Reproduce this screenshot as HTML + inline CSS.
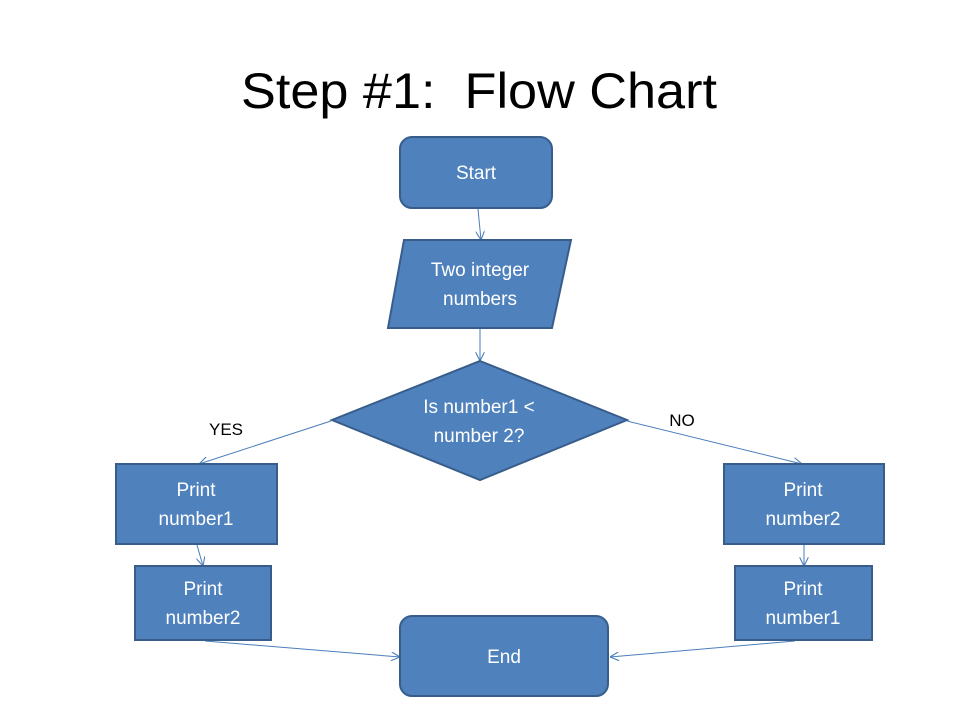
<!DOCTYPE html>
<html><head><meta charset="utf-8"><style>
html,body{margin:0;padding:0;background:#fff;}
svg{display:block;}
text{font-family:"Liberation Sans",sans-serif;}
.w{fill:#fff;font-size:19px;text-anchor:middle;}
.s{fill:#4f81bd;stroke:#385d8a;stroke-width:2;}
.c{stroke:#4a7ebb;stroke-width:1;fill:none;}
</style></head><body>
<svg width="960" height="720" viewBox="0 0 960 720" xmlns="http://www.w3.org/2000/svg">
<defs><marker id="a" viewBox="0 0 10 10" refX="10" refY="5" markerWidth="9" markerHeight="9" orient="auto" markerUnits="userSpaceOnUse"><path d="M0,0 L10,5 L0,10" fill="none" stroke="#4a7ebb" stroke-width="1.2"/></marker></defs>
<text x="479" y="108" font-size="50" text-anchor="middle" textLength="476" lengthAdjust="spacingAndGlyphs" fill="#000">Step #1:&#160; Flow Chart</text>

<line class="c" x1="478" y1="209" x2="481" y2="240" marker-end="url(#a)"/>
<line class="c" x1="480" y1="329" x2="480" y2="361" marker-end="url(#a)"/>
<line class="c" x1="331" y1="421" x2="199" y2="464" marker-end="url(#a)"/>
<line class="c" x1="627" y1="421" x2="802" y2="464" marker-end="url(#a)"/>
<line class="c" x1="197" y1="545" x2="203" y2="566" marker-end="url(#a)"/>
<line class="c" x1="804" y1="545" x2="804" y2="566" marker-end="url(#a)"/>
<line class="c" x1="205" y1="641" x2="400" y2="657" marker-end="url(#a)"/>
<line class="c" x1="795" y1="641" x2="610" y2="657" marker-end="url(#a)"/>

<rect class="s" x="400" y="137" width="152" height="71" rx="12"/>
<text class="w" x="476" y="179">Start</text>

<polygon class="s" points="404,240 571,240 552,328 388,328"/>
<text class="w" x="480" y="276">Two integer</text>
<text class="w" x="480" y="305">numbers</text>

<polygon class="s" points="480,361 627,420 480,480 332,420"/>
<text class="w" x="479" y="413">Is number1 &lt;</text>
<text class="w" x="479" y="442">number 2?</text>

<text x="226" y="435" font-size="17" text-anchor="middle" fill="#000">YES</text>
<text x="682" y="426" font-size="17" text-anchor="middle" fill="#000">NO</text>

<rect class="s" x="116" y="464" width="161" height="80"/>
<text class="w" x="196" y="496">Print</text>
<text class="w" x="196" y="525">number1</text>

<rect class="s" x="135" y="566" width="136" height="74"/>
<text class="w" x="203" y="595">Print</text>
<text class="w" x="203" y="624">number2</text>

<rect class="s" x="724" y="464" width="160" height="80"/>
<text class="w" x="803" y="496">Print</text>
<text class="w" x="803" y="525">number2</text>

<rect class="s" x="735" y="566" width="137" height="74"/>
<text class="w" x="803" y="595">Print</text>
<text class="w" x="803" y="624">number1</text>

<rect class="s" x="400" y="616" width="208" height="80" rx="12"/>
<text class="w" x="504" y="663">End</text>
</svg>
</body></html>
